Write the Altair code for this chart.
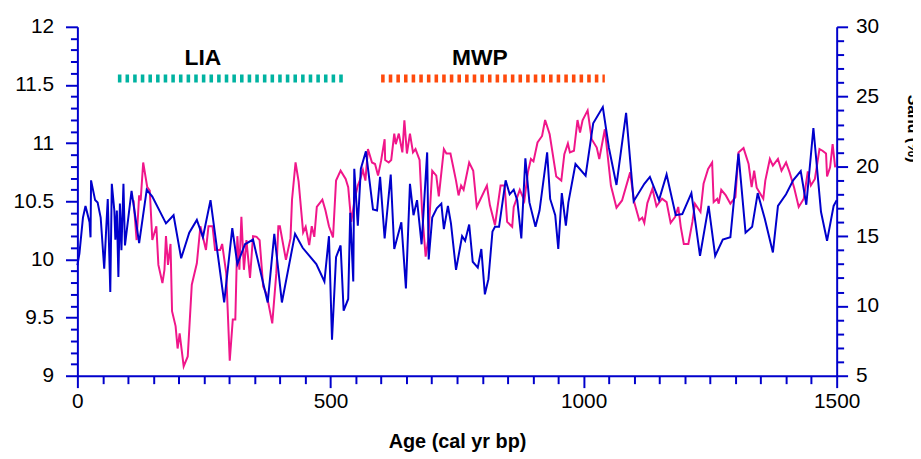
import altair as alt
import pandas as pd

# ---- data ----
blue_yr = [0, 4, 11, 16, 24, 26, 27, 35, 40, 46,
           53, 57, 60, 65, 68, 73, 75, 78, 81, 84,
           87, 91, 94, 107, 122, 137, 148, 175, 190, 205,
           221, 236, 248, 263, 290, 306, 316, 331, 347, 376,
           389, 404, 430, 445, 472, 488, 497, 503, 511, 520,
           526, 535, 539, 545, 547, 554, 560, 570, 584, 592,
           598, 607, 619, 626, 640, 649, 657, 664, 671, 680,
           691, 694, 701, 710, 719, 724, 732, 738, 748, 760,
           766, 774, 781, 791, 798, 805, 812, 820, 825, 833,
           846, 854, 862, 869, 877, 885, 893, 905, 913, 928,
           934, 944, 950, 957, 965, 970, 984, 1004, 1019, 1038,
           1050, 1065, 1084, 1099, 1120, 1131, 1149, 1164, 1182, 1195,
           1213, 1230, 1247, 1260, 1275, 1290, 1306, 1320, 1333, 1344,
           1358, 1374, 1384, 1400, 1414, 1429, 1440, 1454, 1469, 1481,
           1494, 1500]
blue_val = [9.95, 10.05, 10.36, 10.46, 10.32, 10.19, 10.68, 10.51, 10.49, 10.36,
            9.92, 10.27, 10.52, 9.72, 10.65, 10.42, 10.17, 10.42, 9.85, 10.48,
            10.08, 10.65, 10.12, 10.59, 10.14, 10.60, 10.54, 10.31, 10.38, 10.01,
            10.23, 10.34, 10.19, 10.51, 9.63, 10.27, 9.96, 10.13, 10.17, 9.63,
            10.22, 9.63, 10.22, 10.10, 9.96, 9.81, 10.20, 9.31, 10.02, 10.12,
            9.56, 9.66, 10.40, 9.81, 10.78, 10.29, 10.78, 10.93, 10.43, 10.42,
            10.71, 10.18, 10.73, 10.09, 10.32, 9.75, 10.65, 10.38, 10.51, 10.13,
            10.92, 10.00, 10.36, 10.44, 10.48, 10.26, 10.46, 10.31, 9.91, 10.20,
            10.16, 10.30, 9.98, 9.93, 10.09, 9.70, 9.83, 10.24, 10.28, 10.28,
            10.68, 10.56, 10.60, 10.51, 10.18, 10.87, 10.49, 10.28, 10.42, 10.92,
            10.52, 10.38, 10.09, 10.57, 10.29, 10.49, 10.82, 10.72, 11.17, 11.31,
            10.96, 10.64, 11.26, 10.50, 10.65, 10.71, 10.51, 10.73, 10.38, 10.39,
            10.57, 10.03, 10.46, 10.03, 10.17, 10.19, 10.91, 10.23, 10.28, 10.57,
            10.35, 10.06, 10.46, 10.56, 10.68, 10.76, 10.47, 11.13, 10.41, 10.16,
            10.46, 10.51]

pink_yr = [111, 117, 122, 125, 130, 138, 143, 148, 156, 160,
           168, 172, 175, 179, 184, 187, 194, 198, 202, 210,
           218, 226, 236, 243, 254, 259, 267, 272, 282, 286,
           294, 301, 307, 312, 316, 320, 324, 329, 334, 341,
           347, 354, 360, 367, 374, 385, 393, 397, 400, 412,
           421, 424, 431, 437, 446, 451, 458, 463, 468, 473,
           484, 490, 497, 505, 511, 520, 530, 535, 541, 548,
           554, 559, 564, 569, 574, 582, 588, 594, 600, 607,
           608, 615, 620, 626, 629, 635, 642, 646, 651, 657,
           663, 668, 676, 681, 688, 693, 701, 709, 714, 724,
           729, 737, 742, 748, 753, 758, 763, 774, 782, 789,
           809, 815, 825, 836, 844, 849, 859, 862, 874, 883,
           890, 896, 901, 909, 918, 924, 933, 946, 956, 962,
           969, 973, 981, 988, 993, 998, 1008, 1016, 1026, 1031,
           1042, 1054, 1065, 1076, 1092, 1100, 1110, 1116, 1120, 1126,
           1136, 1144, 1155, 1164, 1172, 1181, 1187, 1192, 1198, 1207,
           1215, 1220, 1231, 1237, 1246, 1254, 1257, 1264, 1267, 1272,
           1281, 1290, 1300, 1306, 1316, 1326, 1332, 1337, 1342, 1355,
           1359, 1368, 1374, 1384, 1391, 1400, 1407, 1416, 1425, 1435,
           1443, 1449, 1457, 1466, 1472, 1479, 1481, 1487, 1492, 1497]
pink_val = [17.56, 14.72, 17.92, 17.56, 20.28, 18.51, 18.27, 14.72, 15.71, 12.94,
            11.64, 12.59, 15.0, 12.94, 14.44, 9.62, 8.56, 6.95, 8.04, 5.67,
            6.38, 11.52, 13.06, 15.71, 14.01, 15.71, 15.71, 14.01, 14.01, 14.44,
            12.35, 6.07, 9.03, 9.03, 15.0, 12.59, 16.38, 12.59, 14.72, 12.0,
            15.0, 14.95, 14.72, 11.4, 10.81, 8.75, 12.35, 15.71, 15.71, 13.3,
            14.84, 17.61, 20.28, 18.93, 15.27, 15.67, 14.36, 15.71, 14.95, 17.09,
            17.61, 16.85, 15.71, 14.91, 18.98, 19.69, 19.1, 18.51, 16.02, 17.68,
            18.63, 19.1, 19.74, 18.98, 21.24, 20.28, 20.17, 19.34, 20.41, 21.95,
            20.46, 20.28, 20.46, 22.35, 21.59, 22.35, 21.0, 23.3, 20.92, 22.35,
            21.0, 21.24, 20.46, 16.73, 13.53, 14.72, 19.69, 19.34, 17.85, 21.24,
            20.92, 20.92, 20.05, 18.98, 17.92, 18.63, 18.32, 20.28, 19.69, 17.09,
            18.63, 17.21, 15.79, 18.63, 18.63, 16.02, 15.67, 17.09, 18.32, 17.56,
            19.57, 20.53, 20.36, 21.71, 22.18, 23.32, 22.3, 19.27, 18.98, 20.88,
            21.64, 21.0, 21.12, 23.32, 22.42, 23.3, 24.01, 21.95, 21.35, 20.53,
            22.66, 18.63, 17.04, 17.56, 19.57, 17.44, 16.14, 16.33, 15.95, 17.37,
            18.39, 17.14, 17.68, 17.44, 15.95, 16.38, 17.09, 15.67, 14.44, 14.44,
            16.02, 17.33, 16.73, 18.75, 19.82, 20.28, 17.44, 17.68, 17.33, 18.32,
            17.92, 17.33, 17.8, 21.0, 21.31, 20.17, 18.51, 19.69, 18.47, 17.68,
            18.98, 20.53, 20.05, 20.53, 19.69, 20.28, 19.57, 18.47, 17.09, 17.68,
            19.64, 18.63, 19.1, 21.24, 21.12, 20.92, 19.27, 19.93, 21.59, 19.93]

period_names = ["LIA", "MWP"]
period_start = [80, 600]
period_end = [526, 1042]
period_label_x = [248, 795]
period_bar_level = [11.555, 11.555]
period_label_level = [11.735, 11.735]
period_colors = ["#00B3A1", "#FF4A0C"]

x_ticks = list(range(0, 1501, 50))
left_ticks = [round(9 + 0.1 * i, 1) for i in range(31)]
right_ticks = list(range(5, 31))

BLUE = "#0000CC"
PINK = "#F0168A"
FONT = "Liberation Sans"

blue_df = pd.DataFrame({"yr": blue_yr, "v": blue_val})
pink_df = pd.DataFrame({"yr": pink_yr, "p": pink_val})
per_df = pd.DataFrame({"name": period_names, "start": period_start, "end": period_end,
                       "tx": period_label_x, "bar": period_bar_level,
                       "lab": period_label_level, "col": period_colors})

x_scale = alt.Scale(domain=[0, 1500], nice=False, zero=False)
x_axis = alt.Axis(values=x_ticks, orient="bottom", grid=False,
                  tickSize={"condition": {"test": "datum.value % 500 === 0", "value": 12}, "value": 8},
                  labelExpr="datum.value % 500 === 0 ? toString(datum.value) : ''",
                  labelFlush=False, labelOverlap=False, labelPadding=3,
                  title="Age (cal yr bp)", titleFontWeight="bold", titleFontSize=20,
                  titleFont=FONT, titleY=66, titleBaseline="middle", titleColor="black")

left_scale = alt.Scale(domain=[9, 12], nice=False, zero=False)
left_axis = alt.Axis(values=left_ticks, orient="left", grid=False,
                     tickSize={"condition": {"test": "abs(datum.value*2 - round(datum.value*2)) < 0.001", "value": 12}, "value": 7},
                     labelExpr="abs(datum.value*2 - round(datum.value*2)) < 0.001 ? toString(round(datum.value*10)/10) : ''",
                     labelFlush=False, labelOverlap=False, labelPadding=12, title=None)

right_scale = alt.Scale(domain=[5, 30], nice=False, zero=False)
right_axis = alt.Axis(values=right_ticks, orient="right", grid=False,
                      tickSize={"condition": {"test": "datum.value % 5 === 0", "value": 11}, "value": 7},
                      labelExpr="datum.value % 5 === 0 ? toString(datum.value) : ''",
                      labelFlush=False, labelOverlap=False, labelPadding=8,
                      title="Sand (%)", titleAngle=90, titleX=68, titleY=68,
                      titleAlign="left", titleBaseline="bottom",
                      titleFontWeight="bold", titleFontSize=16, titleFont=FONT,
                      titleColor="black")


def X(field):
    return alt.X(field, type="quantitative", scale=x_scale, axis=x_axis)


def YL(field):
    return alt.Y(field, type="quantitative", scale=left_scale, axis=left_axis)


pink = alt.Chart(pink_df).mark_line(color=PINK, strokeWidth=2).encode(
    x=X("yr"),
    y=alt.Y("p", type="quantitative", scale=right_scale, axis=right_axis),
    order="yr:Q",
)

blue = alt.Chart(blue_df).mark_line(color=BLUE, strokeWidth=2).encode(
    x=X("yr"), y=YL("v"), order="yr:Q"
)

bars = alt.Chart(per_df).mark_rule(strokeWidth=8, strokeDash=[3.6, 4.1]).encode(
    x=X("start"), x2="end", y=YL("bar"),
    color=alt.Color("col:N", scale=None),
)

labels = alt.Chart(per_df).mark_text(font=FONT, fontWeight="bold", fontSize=23,
                                     color="black", baseline="middle").encode(
    x=X("tx"), y=YL("lab"), text="name:N"
)

chart = alt.layer(
    pink, alt.layer(bars, labels, blue)
).resolve_scale(y="independent").properties(
    width=766, height=352,
    padding={"left": 70, "top": 17, "right": 77, "bottom": 78},
    autosize="none",
).configure_view(stroke=None).configure_axis(
    domainColor=BLUE, domainWidth=2, tickColor=BLUE, tickWidth=2,
    labelColor="black", labelFont=FONT, labelFontSize=21,
)

chart.save("out.html", embed_options={"renderer": "svg", "actions": False})
